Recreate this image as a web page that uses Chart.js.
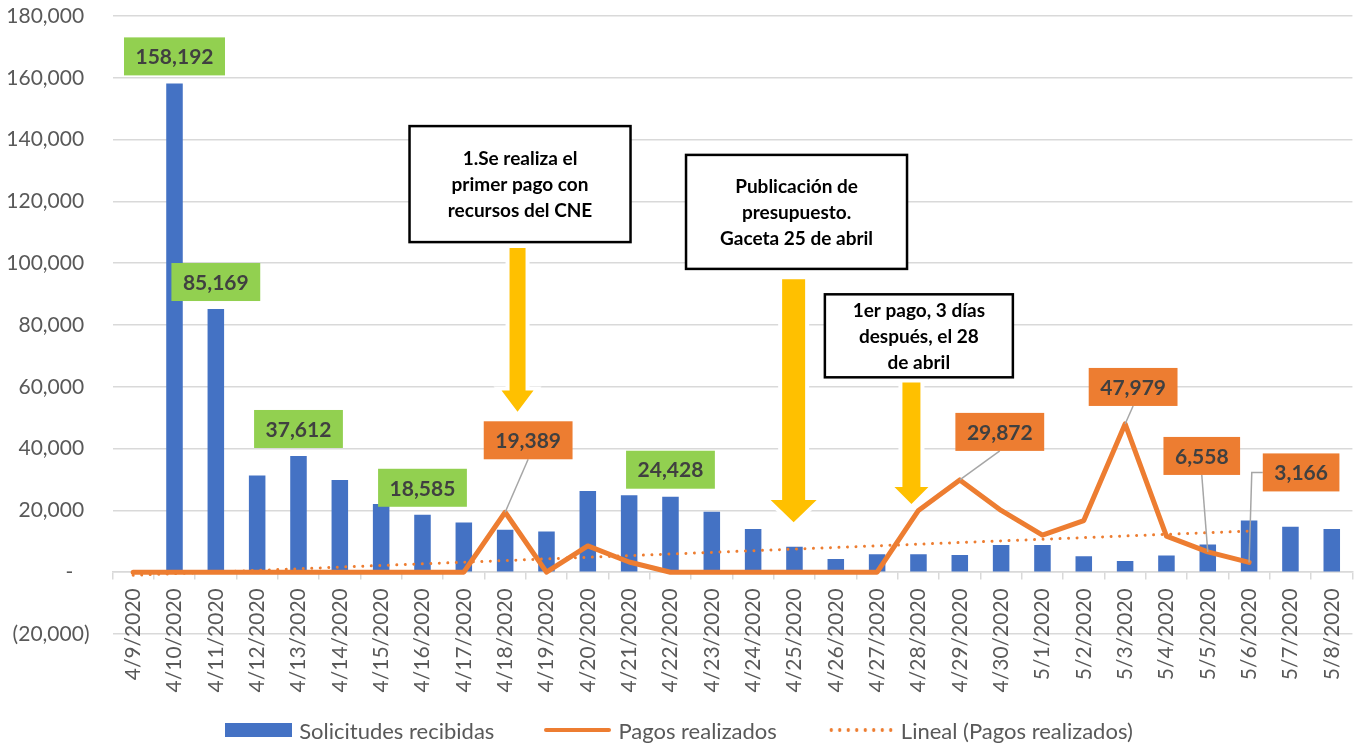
<!DOCTYPE html>
<html>
<head>
<meta charset="utf-8">
<script src="https://cdn.jsdelivr.net/npm/chart.js@4.4.1/dist/chart.umd.min.js"></script>
<style>
  html, body { margin: 0; padding: 0; background: #fff; }
  #wrap { position: relative; width: 1366px; height: 746px; overflow: hidden; }
  #grafico { display: block; }
  #leyenda {
    position: absolute; left: -4px; width: 1366px; top: 716px; height: 28px;
    display: flex; justify-content: center; align-items: center;
    font: 22px Lato, sans-serif; color: #595959; white-space: nowrap;
  }
  #leyenda .item { display: flex; align-items: center; margin: 0 25px; }
  #leyenda .sw { display: inline-block; width: 67px; margin-right: 7px; }
  .sw.barra { height: 14px; background: #4472C4; }
  .sw.linea { height: 4px; background: #ED7D31; border-radius: 2px; }
  .sw.puntos { height: 4px; background: radial-gradient(circle, #ED7D31 1.6px, transparent 2px) 0 0 / 8.5px 4px repeat-x; }
</style>
</head>
<body>
<div id="wrap">
  <canvas id="grafico" width="1366" height="746"></canvas>
  <div id="leyenda">
    <span class="item"><span class="sw barra"></span>Solicitudes recibidas</span>
    <span class="item"><span class="sw linea"></span>Pagos realizados</span>
    <span class="item"><span class="sw puntos"></span>Lineal (Pagos realizados)</span>
  </div>
</div>
<script>
// fechas 4/9/2020 .. 5/8/2020
const categorias = [
  '4/9/2020', '4/10/2020', '4/11/2020', '4/12/2020', '4/13/2020', '4/14/2020',
  '4/15/2020', '4/16/2020', '4/17/2020', '4/18/2020', '4/19/2020', '4/20/2020',
  '4/21/2020', '4/22/2020', '4/23/2020', '4/24/2020', '4/25/2020', '4/26/2020',
  '4/27/2020', '4/28/2020', '4/29/2020', '4/30/2020', '5/1/2020', '5/2/2020',
  '5/3/2020', '5/4/2020', '5/5/2020', '5/6/2020', '5/7/2020', '5/8/2020'
];

const solicitudes = [
  0, 158192, 85169, 31300, 37612, 29800,
  22100, 18585, 16100, 13700, 13200, 26300,
  24900, 24428, 19600, 14000, 8200, 4300,
  5800, 5800, 5600, 8800, 8800, 5200,
  3600, 5400, 9000, 16700, 14700, 14000
];

const pagos = [
  0, 0, 0, 0, 0, 0,
  0, 0, 0, 19389, 0, 8500,
  3300, 0, 0, 0, 0, 0,
  0, 20000, 29872, 20000, 12000, 16700,
  47979, 11700, 6558, 3166, null, null
];

// linea de tendencia tal como se ve en el grafico
const tendencia = [
  -1000, -470, 60, 590, 1120, 1650,
  2180, 2710, 3240, 3770, 4300, 4830,
  5360, 5890, 6420, 6950, 7480, 8010,
  8540, 9070, 9600, 10130, 10660, 11190,
  11720, 12250, 12780, 13310, null, null
];

const yMin = -20000;
const yMax = 180000;
const yPaso = 20000;

// etiquetas de datos (indices)
const barrasConEtiqueta = [1, 2, 4, 7, 13];
const pagosConEtiqueta = [
  { i: 9, dx: 23, dy: -72 },
  { i: 20, dx: 40, dy: -48 },
  { i: 24, dx: 8, dy: -37 },
  { i: 26, dx: -6, dy: -96 },
  { i: 27, dx: 52, dy: -90, codo: true }
];

// cuadros de texto y flechas (posicion en indice de categoria / valor)
const notas = [
  { lineas: ['1.Se realiza el', 'primer pago con', 'recursos del CNE'], x: 9.36, y: 125600, w: 221, h: 116 },
  { lineas: ['Publicación de', 'presupuesto.', 'Gaceta 25 de abril'], x: 16.05, y: 116600, w: 221, h: 114 },
  { lineas: ['1er pago, 3 días', 'después, el 28', 'de abril'], x: 19.01, y: 76500, w: 188, h: 83 }
];
const flechas = [
  { x: 9.30, top: 104900, head: 58800, tip: 51900, shaft: 8, half: 16 },
  { x: 15.98, top: 94800, head: 23400, tip: 16200, shaft: 11.5, half: 23 },
  { x: 18.83, top: 61400, head: 27600, tip: 22100, shaft: 9, half: 17 }
];

const fmt = v => v.toLocaleString('en-US');

function etiqueta(ctx, texto, cx, cy, fondo) {
  ctx.font = 'bold 21px Lato';
  const w = ctx.measureText(texto).width + 23, h = 38;
  ctx.fillStyle = fondo;
  ctx.fillRect(cx - w / 2, cy - h / 2, w, h);
  ctx.fillStyle = '#404040';
  ctx.textAlign = 'center';
  ctx.textBaseline = 'middle';
  ctx.fillText(texto, cx, cy + 1);
  return { w, h };
}

const notasPlugin = {
  id: 'notas',
  beforeDatasetsDraw(chart) {
    const ctx = chart.ctx, xs = chart.scales.x, ys = chart.scales.y;
    ctx.save();
    flechas.forEach(f => {
      const cx = xs.getPixelForValue(f.x);
      const t = ys.getPixelForValue(f.top), h = ys.getPixelForValue(f.head), p = ys.getPixelForValue(f.tip);
      ctx.beginPath();
      ctx.moveTo(cx - f.shaft, t);
      ctx.lineTo(cx + f.shaft, t);
      ctx.lineTo(cx + f.shaft, h);
      ctx.lineTo(cx + f.half, h);
      ctx.lineTo(cx, p);
      ctx.lineTo(cx - f.half, h);
      ctx.lineTo(cx - f.shaft, h);
      ctx.closePath();
      ctx.lineWidth = 8;
      ctx.lineJoin = 'miter';
      ctx.strokeStyle = '#ffffff';
      ctx.stroke();
      ctx.fillStyle = '#FFC000';
      ctx.fill();
    });
    notas.forEach(n => {
      const cx = xs.getPixelForValue(n.x), cy = ys.getPixelForValue(n.y);
      ctx.fillStyle = '#ffffff';
      ctx.fillRect(cx - n.w / 2, cy - n.h / 2, n.w, n.h);
      ctx.lineWidth = 2.5;
      ctx.strokeStyle = '#000000';
      ctx.strokeRect(cx - n.w / 2, cy - n.h / 2, n.w, n.h);
      ctx.font = 'bold 19px Lato';
      ctx.fillStyle = '#000000';
      ctx.textAlign = 'center';
      ctx.textBaseline = 'middle';
      const lh = 26, y0 = cy - lh * (n.lineas.length - 1) / 2;
      n.lineas.forEach((l, k) => ctx.fillText(l, cx, y0 + k * lh + 1));
    });
    ctx.restore();
  },
  afterDatasetsDraw(chart) {
    const ctx = chart.ctx;
    ctx.save();
    const barras = chart.getDatasetMeta(2).data;
    barrasConEtiqueta.forEach(i => {
      const el = barras[i];
      etiqueta(ctx, fmt(solicitudes[i]), el.x, el.y - 27, '#92D050');
    });
    const puntos = chart.getDatasetMeta(0).data;
    pagosConEtiqueta.forEach(e => {
      const el = puntos[e.i];
      const cx = el.x + e.dx, cy = el.y + e.dy;
      ctx.font = 'bold 21px Lato';
      const w = ctx.measureText(fmt(pagos[e.i])).width + 23, h = 38;
      ctx.beginPath();
      if (e.codo) {
        ctx.moveTo(cx - w / 2, cy);
        ctx.lineTo(cx - w / 2 - 11, cy);
        ctx.lineTo(el.x, el.y);
      } else {
        ctx.moveTo(cx, cy + h / 2);
        ctx.lineTo(el.x, el.y);
      }
      ctx.lineWidth = 1.5;
      ctx.strokeStyle = '#A6A6A6';
      ctx.stroke();
      etiqueta(ctx, fmt(pagos[e.i]), cx, cy, '#ED7D31');
    });
    ctx.restore();
  }
};

function dibujar() {
  const ctx = document.getElementById('grafico');
  new Chart(ctx, {
    type: 'bar',
    data: {
      labels: categorias,
      datasets: [
        {
          type: 'line',
          label: 'Pagos realizados',
          data: pagos,
          borderColor: '#ED7D31',
          backgroundColor: '#ED7D31',
          borderWidth: 5,
          borderJoinStyle: 'round',
          borderCapStyle: 'round',
          pointRadius: 0,
          tension: 0,
          order: 1
        },
        {
          type: 'line',
          label: 'Lineal (Pagos realizados)',
          data: tendencia,
          borderColor: '#ED7D31',
          borderWidth: 3,
          borderDash: [0.01, 8.5],
          borderCapStyle: 'round',
          pointRadius: 0,
          tension: 0,
          order: 2
        },
        {
          label: 'Solicitudes recibidas',
          data: solicitudes,
          backgroundColor: '#4472C4',
          barPercentage: 0.4,
          categoryPercentage: 1,
          order: 3
        }
      ]
    },
    options: {
      responsive: false,
      animation: false,
      events: [],
      layout: { padding: { top: 16, right: 2, bottom: 112, left: 0 } },
      plugins: {
        legend: { display: false },
        tooltip: { enabled: false }
      },
      scales: {
        x: {
          position: { y: 0 },
          offset: true,
          grid: { drawOnChartArea: false, drawTicks: true, tickLength: 7, color: '#d9d9d9', offset: true, lineWidth: 1.5 },
          border: { color: '#d9d9d9', width: 1.5 },
          ticks: {
            autoSkip: false, minRotation: 90, maxRotation: 90, padding: 9,
            color: '#595959', font: { family: 'Lato', size: 21 }
          }
        },
        y: {
          min: yMin,
          max: yMax,
          ticks: {
            stepSize: yPaso,
            padding: 0,
            color: '#595959',
            font: { family: 'Lato', size: 21 },
            callback: v => v === 0 ? '-   ' : v < 0 ? '(' + fmt(-v) + ')' : fmt(v) + ' '
          },
          // marcas invisibles: solo separan las etiquetas del area
          grid: { color: '#d9d9d9', drawTicks: true, tickLength: 23, tickColor: 'rgba(0,0,0,0)', lineWidth: 1.5 },
          border: { display: false },
          afterFit(s) { s.width = 112.5; }
        }
      }
    },
    plugins: [notasPlugin]
  });
}

Promise.all([
  document.fonts.load('21px Lato'),
  document.fonts.load('bold 21px Lato')
]).then(dibujar, dibujar);
</script>
</body>
</html>
